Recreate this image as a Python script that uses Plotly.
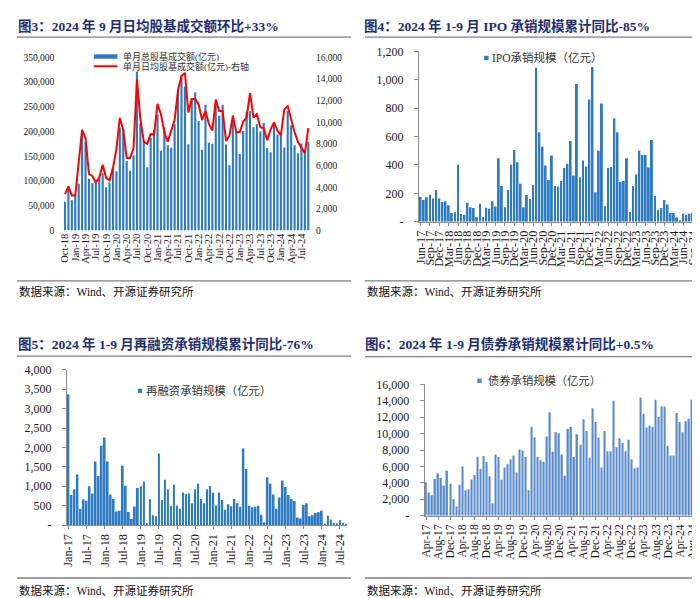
import plotly.graph_objects as go
import pandas as pd

W, H = 700, 598
def PX(x): return x / W
def PY(y): return 1 - y / H

# ---------------- data ----------------
p1_months = pd.date_range("2018-10-01", "2024-09-01", freq="MS").strftime("%b-%y").tolist()
p1_total = [58000, 89300, 61200,
            71500, 94500, 195300, 178500, 104600, 95400, 101700, 107100, 115500, 87700, 97200, 127200,
            120000, 208000, 204600, 140700, 120600, 152000, 321100, 216300, 180400, 128000, 186900, 204000,
            234000, 161100, 208800, 172200, 167400, 214800, 286000, 313700, 291200, 174200, 267300, 279500,
            221200, 163200, 253900, 177100, 175400, 253900, 231800, 253900, 173700, 131700, 233000, 199800,
            154400, 201000, 240100, 241100, 208800, 214800, 200300, 217400, 166600, 158400, 219800, 193800,
            193200, 167900, 241300, 212900, 172500, 155400, 175700, 156900, 179600]
p1_daily = [3370, 4060, 3220,
            3250, 6300, 9300, 8500, 5230, 5020, 4420, 4870, 6080, 4870, 4630, 5780,
            7500, 10400, 9300, 6700, 6700, 7600, 13960, 10300, 8200, 8000, 8900, 8870,
            11700, 10740, 9080, 8200, 9300, 10230, 13000, 14260, 14560, 10890, 12150, 12150,
            11640, 10200, 11040, 9840, 9230, 12090, 11040, 11040, 8270, 8780, 10590, 9080,
            9080, 10050, 10440, 12690, 10440, 10740, 9540, 9450, 8330, 9320, 9990, 9230,
            8780, 11190, 11490, 10140, 9080, 8180, 7640, 7130, 9450]
p1_ticks = p1_months[::3]

p2_months = pd.date_range("2017-06-01", "2024-09-01", freq="MS").strftime("%b-%y").tolist()
p2_ipo = [177, 154, 172, 190, 163, 223, 163,
          140, 145, 117, 62, 67, 402, 55, 50, 133, 103, 96, 32,
          126, 34, 99, 92, 145, 108, 447, 252, 103, 223, 402, 505,
          420, 268, 103, 188, 160, 259, 1085, 631, 528, 397, 294, 466,
          252, 248, 287, 379, 409, 569, 326, 971, 314, 431, 390, 861,
          1090, 207, 500, 833, 110, 379, 386, 727, 631, 282, 287, 447,
          69, 252, 333, 500, 470, 470, 383, 576, 181, 85, 96, 154,
          122, 62, 62, 30, 11, 57, 50, 57, 64]
p2_ticks = p2_months[::3]

p3_months = pd.date_range("2017-01-01", "2024-09-01", freq="MS").strftime("%b-%y").tolist()
p3_refin = [3371, 772, 914, 1300, 411, 662, 629, 998, 813, 1635, 1266, 2046,
            2256, 1635, 788, 671, 352, 369, 1526, 1015, 335, 159, 478, 956,
            998, 1124, 50, 671, 252, 226, 1845, 646, 1166, 914, 495, 1040,
            503, 419, 839, 800, 813, 562, 922, 1065, 671, 562, 922, 1006,
            830, 495, 839, 646, 394, 537, 486, 671, 562, 470, 1971, 1442,
            495, 461, 470, 495, 268, 75, 1233, 1065, 788, 419, 713, 1149,
            981, 772, 671, 621, 193, 168, 520, 562, 226, 252, 310, 327,
            369, 25, 243, 143, 59, 50, 126, 59, 17]
p3_ticks = p3_months[::6]

p4_months = pd.date_range("2017-04-01", "2024-09-01", freq="MS").strftime("%b-%y").tolist()
p4_bond = [4090, 2818, 2500, 4486, 5161, 4605, 3692, 5479, 3890,
           2025, 1112, 3771, 5995, 3097, 3216, 4407, 4963, 7186, 5677, 7265, 6551,
           4804, 1509, 7464, 7146, 4367, 5876, 6273, 6868, 7345, 5280, 8059, 7940,
           7146, 3097, 10838, 9568, 7146, 6749, 6590, 9647, 12625, 7781, 10163, 10044,
           7464, 4883, 10560, 10838, 7146, 9925, 8655, 11751, 10322, 7067, 13101, 11434,
           9528, 5876, 10322, 7861, 7861, 14014, 8337, 9449, 8853, 7861, 9250, 6868,
           5796, 5876, 14411, 12426, 10759, 10957, 10838, 14133, 12029, 13300, 13300, 8536,
           7345, 7345, 12506, 11434, 10163, 11513, 11831, 14133, 12903]
p4_ticks = p4_months[::4]

titles = ["图3：2024 年 9 月日均股基成交额环比+33%",
          "图4：2024 年 1-9 月 IPO 承销规模累计同比-85%",
          "图5：2024 年 1-9 月再融资承销规模累计同比-76%",
          "图6：2024 年 1-9 月债券承销规模累计同比+0.5%"]
source = "数据来源：Wind、开源证券研究所"

# ---------------- style ----------------
SERIF = "Liberation Serif, Noto Sans CJK SC"
CJK = "Noto Sans CJK SC, Liberation Serif"
TXT = "#1a1a1a"
AX = "#8c8c8c"
BLUE = "#2C7AC3"
BLUE4 = "#5588C8"

fig = go.Figure()
fig.add_trace(go.Bar(x=p1_months, y=p1_total, xaxis="x", yaxis="y", width=0.62,
                     marker=dict(color=BLUE, line=dict(width=0)), name="单月总股基成交额(亿元)"))
fig.add_trace(go.Scatter(x=p1_months, y=p1_daily, xaxis="x", yaxis="y2", mode="lines",
                         line=dict(color="#FF0000", width=2), name="单月日均股基成交额(亿元)-右轴"))
fig.add_trace(go.Bar(x=p2_months, y=p2_ipo, xaxis="x2", yaxis="y3", width=0.6,
                     marker=dict(color=BLUE, line=dict(width=0)), name="IPO承销规模（亿元）"))
fig.add_trace(go.Bar(x=p3_months, y=p3_refin, xaxis="x3", yaxis="y4", width=0.6,
                     marker=dict(color=BLUE, line=dict(width=0)), name="再融资承销规模（亿元）"))
fig.add_trace(go.Bar(x=p4_months, y=p4_bond, xaxis="x4", yaxis="y5", width=0.45,
                     marker=dict(color=BLUE4, line=dict(width=0)), name="债券承销规模（亿元）"))

def xcat(domain, anchor, n, ticks, size, axisline):
    return dict(domain=domain, anchor=anchor, type="category", range=[-0.5, n - 0.5],
                tickmode="array", tickvals=ticks, ticktext=ticks, tickangle=-90,
                tickfont=dict(family=SERIF, size=size, color=TXT),
                showgrid=False, zeroline=False, fixedrange=True,
                showline=axisline, linecolor=AX, linewidth=1,
                ticks="outside" if axisline else "", ticklen=3, tickcolor=AX)

def yax(domain, anchor, rng, vals, texts, size, axisline, standoff, side="left", overlay=None):
    d = dict(domain=domain, anchor=anchor, range=rng, tickmode="array", tickvals=vals,
             ticktext=texts, tickfont=dict(family=SERIF, size=size, color=TXT),
             showgrid=False, zeroline=False, showline=axisline, linecolor=AX, linewidth=1,
             ticks="outside" if axisline else "", ticklen=4, tickcolor=AX,
             ticklabelstandoff=standoff, side=side)
    if overlay:
        d["overlaying"] = overlay
    return d

v1 = list(range(0, 350001, 50000))
v2 = list(range(0, 16001, 2000))
v3 = list(range(0, 1201, 200))
v4 = list(range(0, 4001, 500))
v5 = list(range(0, 16001, 2000))
fmt = lambda v: f"{v:,}"
dash = lambda v: "-" if v == 0 else f"{v:,}"

fig.update_layout(
    width=W, height=H, margin=dict(l=0, r=0, t=0, b=0),
    paper_bgcolor="white", plot_bgcolor="white", showlegend=False,
    xaxis=xcat([PX(51), PX(301.3)], "y", len(p1_months), p1_ticks, 10.5, False),
    yaxis=yax([PY(220.7), PY(43.3)], "x", [0, 350000], v1, [fmt(v) for v in v1], 9.5, False, 8),
    yaxis2=yax([PY(220.7), PY(43.3)], "x", [0, 16000], v2, [fmt(v) for v in v2], 9.5, False, 5,
               side="right", overlay="y"),
    xaxis2=xcat([PX(411.9), PX(691)], "y3", len(p2_months), p2_ticks, 12.3, True),
    yaxis3=yax([PY(211.7), PY(37.3)], "x2", [0, 1200], v3, [dash(v) for v in v3], 12, True, 8),
    xaxis3=xcat([PX(54.7), PX(339.3)], "y4", len(p3_months), p3_ticks, 12.3, True),
    yaxis4=yax([PY(522.3), PY(363.3)], "x3", [0, 4000], v4, [dash(v) for v in v4], 12, True, 8),
    xaxis4=xcat([PX(417.5), PX(693.5)], "y5", len(p4_months), p4_ticks, 11.6, True),
    yaxis5=yax([PY(512.7), PY(378.3)], "x4", [0, 16000], v5, [dash(v) for v in v5], 12, True, 8),
)

ann = []
shapes = []
def line(x0, x1, y, color="#7f7f7f", w=1.3):
    shapes.append(dict(type="line", xref="paper", yref="paper", x0=PX(x0), x1=PX(x1),
                       y0=PY(y), y1=PY(y), line=dict(color=color, width=w)))
def text(x, y, s, size, color=TXT, family=CJK, bold=False, xanchor="left"):
    ann.append(dict(xref="paper", yref="paper", x=PX(x), y=PY(y), text=f"<b>{s}</b>" if bold else s,
                    showarrow=False, xanchor=xanchor, yanchor="middle",
                    font=dict(family=family, size=size, color=color)))
def rect(x0, x1, y0, y1, color):
    shapes.append(dict(type="rect", xref="paper", yref="paper", x0=PX(x0), x1=PX(x1),
                       y0=PY(y1), y1=PY(y0), fillcolor=color, line=dict(width=0)))

NAVY = "#1D2E73"
# titles
text(3, 11.5, titles[0], 13.5, NAVY, SERIF, True)
text(354, 11.5, titles[1], 13.5, NAVY, SERIF, True)
text(3, 337, titles[2], 13.5, NAVY, SERIF, True)
text(355, 337, titles[3], 13.5, NAVY, SERIF, True)
line(4, 343, 22.7); line(357, 697, 22.7)
line(4, 343, 349.3); line(357, 697, 349.8)
# sources
line(4, 343, 272.3); line(357, 697, 272.3)
line(4, 343, 576.5); line(357, 697, 576.5)
text(4, 283.5, source, 11.5, "#111", SERIF)
text(357, 283.5, source, 11.5, "#111", SERIF)
text(4, 589, source, 11.5, "#111", SERIF)
text(357, 589, source, 11.5, "#111", SERIF)
# small grey mark at right edge between panels
rect(694.5, 697, 291, 304, "#a6a6a6")

# legends
rect(82, 106, 40.3, 44.8, BLUE)
text(110, 42.5, "单月总股基成交额(亿元)", 9, "#333", SERIF)
line(82, 106, 52.5, "#FF0000", 2)
text(110, 52.5, "单月日均股基成交额(亿元)-右轴", 9, "#333", SERIF)

rect(478, 482.5, 41.8, 46.3, BLUE)
text(484, 44, "IPO承销规模（亿元）", 11.5, "#333", SERIF)
rect(126.7, 131, 382.7, 387, BLUE)
text(133, 385, "再融资承销规模（亿元）", 11.4, "#333", SERIF)
rect(471, 475.5, 372.3, 376.8, BLUE4)
text(479.5, 374.5, "债券承销规模（亿元）", 11.3, "#333", SERIF)

fig.update_layout(annotations=ann, shapes=shapes)
fig.write_html("out.html")
